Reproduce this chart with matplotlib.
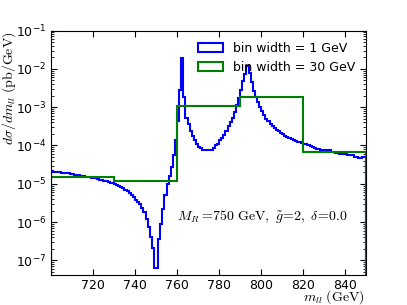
import matplotlib
matplotlib.use("Agg")
import matplotlib.pyplot as plt
import numpy as np

# ── Data ──────────────────────────────────────────────────────────────────────

# 1 GeV bins, 700..850 GeV, log10 of dsigma/dm (pb/GeV)
fine_edges = np.arange(700, 851, 1)
fine_log = [
    -4.67, -4.68, -4.69, -4.69, -4.70, -4.71, -4.72, -4.73, -4.73, -4.74,   # 700
    -4.75, -4.76, -4.77, -4.78, -4.79, -4.80, -4.81, -4.82, -4.83, -4.84,   # 710
    -4.85, -4.86, -4.88, -4.89, -4.90, -4.92, -4.93, -4.95, -4.97, -4.99,   # 720
    -5.01, -5.03, -5.06, -5.09, -5.12, -5.16, -5.20, -5.24, -5.29, -5.35,   # 730
    -5.41, -5.47, -5.54, -5.62, -5.74, -5.92, -6.13, -6.40, -6.67, -7.20,   # 740
    -7.20, -6.45, -6.05, -5.65, -5.30, -5.00, -4.80, -4.55, -4.25, -3.85,   # 750
    -3.35, -2.55, -1.72, -2.74, -3.28, -3.45, -3.62, -3.74, -3.87, -3.97,   # 760
    -4.03, -4.07, -4.11, -4.13, -4.13, -4.13, -4.11, -4.06, -4.00, -3.95,   # 770
    -3.87, -3.80, -3.72, -3.61, -3.50, -3.40, -3.28, -3.12, -2.95, -2.75,   # 780
    -2.55, -2.32, -2.13, -1.92, -2.10, -2.35, -2.57, -2.74, -2.87, -3.00,   # 790
    -3.11, -3.21, -3.30, -3.37, -3.44, -3.50, -3.54, -3.59, -3.63, -3.67,   # 800
    -3.71, -3.74, -3.78, -3.81, -3.84, -3.86, -3.89, -3.91, -3.92, -3.94,   # 810
    -3.95, -3.97, -3.99, -4.01, -4.04, -4.06, -4.08, -4.10, -4.11, -4.11,   # 820
    -4.12, -4.14, -4.13, -4.16, -4.18, -4.19, -4.18, -4.21, -4.22, -4.21,   # 830
    -4.23, -4.25, -4.24, -4.26, -4.29, -4.31, -4.32, -4.33, -4.31, -4.30,   # 840
]
fine_vals = 10.0 ** np.array(fine_log)

# 30 GeV bins
coarse_edges = [700, 730, 760, 790, 820, 850]
coarse_vals = [1.55e-5, 1.15e-5, 1.04e-3, 1.8e-3, 6.9e-5]

xticks = [720, 740, 760, 780, 800, 820, 840]

# ── Plot ──────────────────────────────────────────────────────────────────────

plt.rcParams.update({"font.size": 9})

fig = plt.figure(figsize=(4.07, 3.05), dpi=100)
ax = fig.add_axes([0.125, 0.1, 0.775, 0.8])

fine_centers = (fine_edges[:-1] + fine_edges[1:]) / 2
coarse_centers = [(a + b) / 2 for a, b in zip(coarse_edges[:-1], coarse_edges[1:])]

ax.hist(fine_centers, bins=fine_edges, weights=fine_vals, histtype="step",
        color="b", lw=1.5, label="bin width = 1 GeV")
ax.hist(coarse_centers, bins=coarse_edges, weights=coarse_vals, histtype="step",
        color="g", lw=1.5, label="bin width = 30 GeV")

ax.set_yscale("log")
ax.set_xlim(700, 850)
ax.set_ylim(4.3e-8, 1e-1)
ax.set_xticks(xticks)
ax.tick_params(which="both", direction="in", top=True, right=True, labelsize=9)
ax.tick_params(which="major", length=4)
ax.tick_params(which="minor", length=2)

ax.set_ylabel(r"$d\sigma/dm_{ll}\ (\mathrm{pb/GeV})$", loc="top", fontsize=10,
              math_fontfamily="cm")
ax.yaxis.set_label_coords(-0.103, 0.995)
ax.set_xlabel(r"$m_{ll}\ (\mathrm{GeV})$", loc="right", fontsize=10,
              math_fontfamily="cm")
ax.xaxis.set_label_coords(0.995, -0.055)

ax.text(0.4, 0.238, r"$M_R=\!750\ \mathrm{GeV},\ \tilde{g}\!=\!2,\ \delta\!=\!0.0$",
        transform=ax.transAxes, va="center", ha="left", fontsize=10,
        math_fontfamily="cm")

ax.legend(loc="upper right", frameon=False, fontsize=9)

fig.savefig("out.png", dpi=100)
